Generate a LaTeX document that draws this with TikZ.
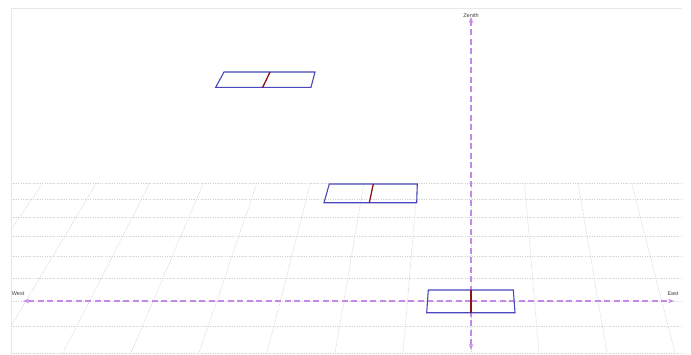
\documentclass[tikz,border=0pt]{standalone}
\usepackage{fontspec}
\setmainfont{Liberation Sans}
\usetikzlibrary{arrows.meta}
\definecolor{panelblue}{HTML}{4848BC}
\definecolor{panelred}{HTML}{8B1414}
\definecolor{axisviolet}{HTML}{C488E8}
\definecolor{gridgray}{HTML}{D4D4D4}
\definecolor{framegray}{HTML}{E8E8E8}
\tikzset{
  gridline/.style={gridgray, line width=0.6pt, dash pattern=on 1.2pt off 1.2pt},
  panel/.style={panelblue, line width=1.1pt, line join=miter},
  centreline/.style={panelred, line width=1.3pt},
  axis/.style={draw=axisviolet, line width=1.15pt, dash pattern=on 6pt off 3.5pt,
    -{Stealth[open,length=6pt,width=4.5pt,line width=0.8pt,color=axisviolet]}},
  lbl/.style={font=\fontsize{5.5}{6.5}\selectfont, text=black!75, inner sep=0.5pt}
}
\begin{document}
\begin{tikzpicture}[x=1pt,y=-1pt]
\useasboundingbox (0,0) rectangle (691,354);
\fill[white] (0,0) rectangle (691,354);
% frame
\draw[framegray, line width=1pt] (11,354) -- (11,8.5) -- (682,8.5);
% ground grid
\begin{scope}
\clip (11,182) rectangle (682,354);
\foreach \yy in {183,199.5,217,236,256.5,278,301,326,353}
  \draw[gridline] (11,\yy) -- (682,\yy);
\foreach \k in {-8,...,4} {
  \pgfmathsetmacro{\bx}{471+68*\k}
  \pgfmathsetmacro{\tx}{471+68*\k*0.787}
  \draw[gridline] (\tx,183) -- (\bx,353);
}
\end{scope}
% axes
\coordinate (wend) at (23,301);
\coordinate (eend) at (674,301);
\coordinate (zend) at (471,17);
\coordinate (nend) at (471,350);
\coordinate (origin) at (471,301);
\draw[axis] (origin) -- (wend);
\draw[axis] (origin) -- (eend);
\draw[axis] (origin) -- (zend);
\draw[axis] (origin) -- (nend);
\node[lbl, anchor=south] (zlab) at (471,18) {Zenith};
\node[lbl, anchor=south east] (wlab) at (25,296) {West};
\node[lbl, anchor=south] (elab) at (673,296) {East};
% panels
\draw[panel] (224,72) -- (315,72) -- (311,87.3) -- (215.7,87.3) -- cycle;
\draw[centreline] (270,72) -- (262.7,87.3);
\draw[panel] (329.3,184) -- (417.3,184) -- (416.7,202.7) -- (324,202.7) -- cycle;
\draw[centreline] (373.3,184) -- (369.3,202.7);
\draw[panel] (428.3,290) -- (513.3,290) -- (515,312.7) -- (426.7,312.7) -- cycle;
\draw[centreline] (471,290) -- (471,312.7);
\fill[panelred] (origin) circle (1.2pt);
\end{tikzpicture}
\end{document}
